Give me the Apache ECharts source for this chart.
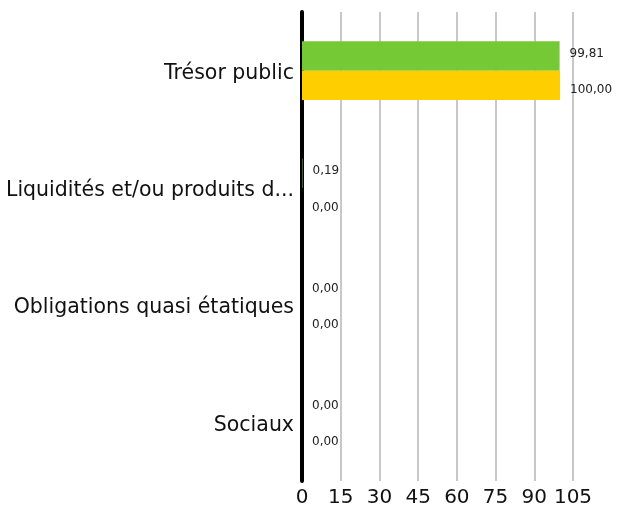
<!DOCTYPE html>
<html><head><meta charset="utf-8">
<script src="https://cdn.jsdelivr.net/npm/echarts@6/dist/echarts.min.js"></script>
<style>html,body{margin:0;padding:0;background:#fff}#c{width:618px;height:508px}</style>
</head><body><div id="c"></div>
<script>
const categories = ["Trésor public", "Liquidités et/ou produits d...", "Obligations quasi étatiques", "Sociaux"];
const seriesA = [99.81, 0.19, 0.00, 0.00];
const seriesB = [100.00, 0.00, 0.00, 0.00];
const xTicks = [0, 15, 30, 45, 60, 75, 90, 105];

const chart = echarts.init(document.getElementById('c'));
const fmt = p => p.value.toFixed(2).replace('.', ',');
const lblBase = { show: true, position: 'right', distance: 10, fontFamily: 'DejaVu Sans', fontSize: 12, color: '#222', formatter: fmt };
chart.setOption({
  animation: false,
  grid: { left: 302, right: 45, top: 12, bottom: 26, containLabel: false },
  xAxis: {
    type: 'value', min: xTicks[0], max: xTicks[xTicks.length - 1], interval: 15,
    axisLine: { show: false }, axisTick: { show: false },
    splitLine: { show: true, lineStyle: { color: '#c8c8c8', width: 2 } },
    axisLabel: { fontFamily: 'DejaVu Sans', fontSize: 20, color: '#111', margin: 7 }
  },
  yAxis: {
    type: 'category', data: categories, inverse: true,
    axisLine: { show: true, lineStyle: { color: '#000', width: 4 } },
    axisTick: { show: false },
    axisLabel: {
      fontFamily: 'DejaVu Sans', fontSize: 20.5, color: '#111', margin: 8,
      formatter: v => '{a|' + v + '}',
      rich: { a: { fontFamily: 'DejaVu Sans', fontSize: 20.5, color: '#111', padding: [6, 0, 0, 0] } }
    }
  },
  series: [
    { type: 'bar', data: seriesA, itemStyle: { color: '#74C935' }, barGap: '0%', barCategoryGap: '50%',
      label: Object.assign({}, lblBase, { offset: [0, -2] }) },
    { type: 'bar', data: seriesB, itemStyle: { color: '#FFCE00' },
      label: Object.assign({}, lblBase, { offset: [0, 5] }) }
  ]
});
</script></body></html>
